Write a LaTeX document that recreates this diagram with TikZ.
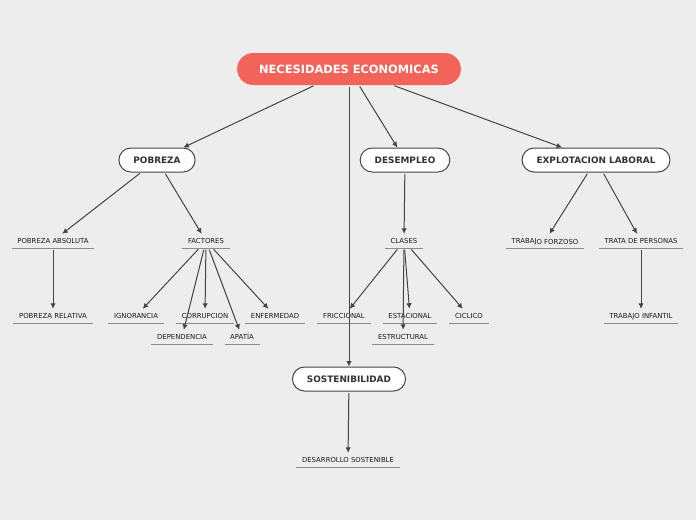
\documentclass[tikz,border=0pt]{standalone}
\usepackage{fontspec}
\setmainfont{DejaVu Sans}
\usetikzlibrary{arrows.meta}
\definecolor{fondo}{HTML}{EDEDED}
\definecolor{rojo}{HTML}{F2645A}
\definecolor{linea}{HTML}{444444}
\definecolor{texto}{HTML}{333333}

\begin{document}
\begin{tikzpicture}[x=1pt, y=-1pt,
    raizbox/.style={fill=rojo, rounded corners=16pt, minimum height=32pt, inner xsep=22pt,
      text=white, font=\fontsize{11.4}{13}\selectfont\bfseries, text height=8.3pt, text depth=0pt},
    tema/.style={draw=linea, line width=1pt, fill=white, rounded corners=12pt, minimum height=24pt, inner xsep=14.5pt,
      text=texto, font=\fontsize{8.9}{10}\selectfont\bfseries, text height=6.5pt, text depth=0pt},
    hoja/.style={inner xsep=5.5pt, minimum height=14pt, text=black!90,
      font=\fontsize{6.9}{8}\selectfont, text height=5pt, text depth=0pt},
    subraya/.style={draw=black!45, line width=0.9pt},
    flecha/.style={draw=linea, line width=1pt, shorten <=1.5pt, -{Latex[length=5.5pt,width=5.5pt]}}]
  \useasboundingbox[fill=fondo] (0,0) rectangle (696,520);

  % temas
  \node[raizbox] (raiz) at (349,69) {NECESIDADES ECONOMICAS};
  \node[tema] (pob) at (157,160) {POBREZA};
  \node[tema] (des) at (405,160) {DESEMPLEO};
  \node[tema] (exp) at (596,160) {EXPLOTACION LABORAL};
  \node[tema] (sos) at (349,379) {SOSTENIBILIDAD};

  % subtemas
  \node[hoja] (pabs) at (53,241) {POBREZA ABSOLUTA};
  \node[hoja] (prel) at (53,316) {POBREZA RELATIVA};
  \node[hoja] (fac) at (206,241) {FACTORES};
  \node[hoja] (ign) at (136,316) {IGNORANCIA};
  \node[hoja] (cor) at (205,316) {CORRUPCION};
  \node[hoja] (enf) at (275,316) {ENFERMEDAD};
  \node[hoja] (dep) at (182,337) {DEPENDENCIA};
  \node[hoja] (apa) at (242,337) {APATÍA};
  \node[hoja] (cla) at (404,241) {CLASES};
  \node[hoja] (fri) at (344,316) {FRICCIONAL};
  \node[hoja] (est) at (410,316) {ESTACIONAL};
  \node[hoja] (cic) at (469,316) {CICLICO};
  \node[hoja] (estr) at (403,337) {ESTRUCTURAL};
  \node[hoja] (tfor) at (545,241) {TRABAJ\raisebox{-1pt}{O FORZOSO}};
  \node[hoja] (trat) at (641,241) {TRATA DE PERSONAS};
  \node[hoja] (tinf) at (641,316) {TRABAJO INFANTIL};
  \node[hoja] (desa) at (348,460) {DESARROLLO SOSTENIBLE};

  \foreach \n in {pabs,prel,fac,ign,cor,enf,dep,apa,cla,fri,est,cic,estr,tfor,trat,tinf,desa}
    \draw[subraya] (\n.south west) -- (\n.south east);

  \foreach \a/\b in {raiz/pob,raiz/des,raiz/exp,raiz/sos,pob/pabs,pob/fac,pabs/prel,
                     fac/ign,fac/dep,fac/cor,fac/apa,fac/enf,des/cla,cla/fri,cla/estr,cla/est,cla/cic,
                     exp/tfor,exp/trat,trat/tinf,sos/desa}
    \draw[flecha] (\a) -- (\b);
\end{tikzpicture}
\end{document}
